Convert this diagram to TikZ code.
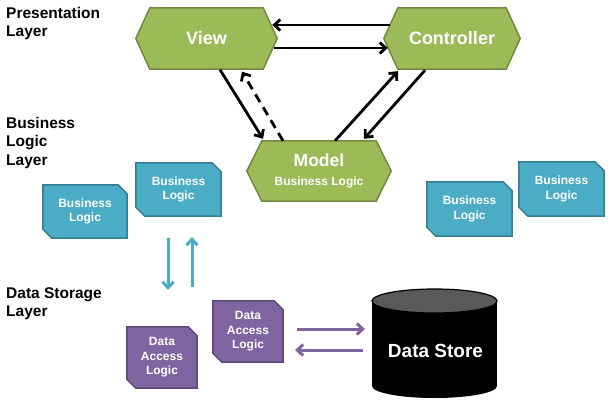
\documentclass[tikz,border=0pt]{standalone}
\usepackage{fontspec}
\setmainfont{Liberation Sans}
\usetikzlibrary{arrows.meta,calc,backgrounds}
\definecolor{grfill}{HTML}{9BBB59}
\definecolor{grline}{HTML}{71893F}
\definecolor{tlfill}{HTML}{4BACC6}
\definecolor{tlline}{HTML}{357D91}
\definecolor{pufill}{HTML}{8064A2}
\definecolor{puline}{HTML}{5C4776}
\definecolor{dsgray}{HTML}{595959}
\tikzset{
  layerlabel/.style={anchor=north west, inner sep=0pt, align=left, font=\bfseries\fontsize{15.5}{18.3}\selectfont},
  hexnode/.style={inner sep=0pt, text=white, align=center},
  boxnode/.style={inner sep=0pt, text=white, align=center, font=\bfseries\fontsize{12}{14.5}\selectfont},
  hexline/.style={draw=grline, fill=grfill, line width=1.5pt, line join=miter},
  tlbox/.style={draw=tlline, fill=tlfill, line width=1.5pt},
  pubox/.style={draw=puline, fill=pufill, line width=1.5pt},
  blk/.style={draw=black, line width=2.8pt, -{Straight Barb[length=6pt,width=11pt,line width=2.8pt]}},
  tlarrow/.style={draw=tlfill, line width=3pt, -{Straight Barb[length=6pt,width=11pt,line width=3pt]}},
  puarrow/.style={draw=pufill, line width=3pt, -{Straight Barb[length=6pt,width=11pt,line width=3pt]}},
}
\newcommand\drawhex[2]{\draw[hexline] (#1.west) -- ($(#1.north west)+(#2,0)$) -- ($(#1.north east)+(-#2,0)$) -- (#1.east) -- ($(#1.south east)+(-#2,0)$) -- ($(#1.south west)+(#2,0)$) -- cycle;}
\newcommand\drawsnip[2]{\draw[#2] (#1.north west) -- ($(#1.north east)+(-9,0)$) -- ($(#1.north east)+(0,9)$) -- (#1.south east) -- ($(#1.south west)+(9,0)$) -- ($(#1.south west)+(0,-9)$) -- cycle;}
\begin{document}
\begin{tikzpicture}[x=1pt,y=-1pt]
\useasboundingbox (0,0) rectangle (610,401);
% layer labels
\node[layerlabel] (lp) at (6,7) {Presentation\\Layer};
\node[layerlabel] (lb) at (6,117) {Business\\Logic\\Layer};
\node[layerlabel] (ld) at (6,287) {Data Storage\\Layer};
% hexagon nodes
\node[hexnode, minimum width=141pt, minimum height=61pt, font=\bfseries\fontsize{18}{20}\selectfont] (view) at (206.5,38.5) {View};
\node[hexnode, minimum width=136pt, minimum height=61pt, font=\bfseries\fontsize{18}{20}\selectfont] (ctrl) at (452,38.5) {Controller};
\node[hexnode, minimum width=144pt, minimum height=60pt, font=\bfseries\fontsize{12}{18.5}\selectfont] (model) at (319,171) {{\fontsize{17.5}{18.5}\selectfont Model}\\Business Logic};
% business logic boxes
\node[boxnode, minimum width=84pt, minimum height=53pt] (bla) at (85,211.5) {Business\\Logic};
\node[boxnode, minimum width=85pt, minimum height=53pt] (blb) at (178.5,189.5) {Business\\Logic};
\node[boxnode, minimum width=85pt, minimum height=54pt] (blc) at (469.5,209) {Business\\Logic};
\node[boxnode, minimum width=85pt, minimum height=54pt] (bld) at (561.5,189) {Business\\Logic};
% data access boxes
\node[boxnode, minimum width=70pt, minimum height=61pt] (dae) at (162,357.5) {Data\\Access\\Logic};
\node[boxnode, minimum width=70pt, minimum height=61pt] (daf) at (248,331.5) {Data\\Access\\Logic};
% shapes behind texts
\begin{pgfonlayer}{background}
  \drawhex{view}{14}
  \drawhex{ctrl}{14}
  \drawhex{model}{15}
  \drawsnip{bla}{tlbox}
  \drawsnip{blb}{tlbox}
  \drawsnip{blc}{tlbox}
  \drawsnip{bld}{tlbox}
  \drawsnip{dae}{pubox}
  \drawsnip{daf}{pubox}
  \fill[black] (372,301) rectangle (497,386);
  \fill[black] (434.5,386) ellipse [x radius=62.5, y radius=12];
  \draw[black, line width=1.2pt, fill=dsgray] (434.5,301) ellipse [x radius=62.5, y radius=12];
\end{pgfonlayer}
\node[inner sep=0pt, text=white, font=\bfseries\fontsize{19}{21}\selectfont] (ds) at (435.5,351) {Data Store};
% black arrows
\draw[blk] ($(ctrl.west)+(6,-13.5)$) -- ($(view.east)+(-5,-13.5)$);
\draw[blk] ($(view.east)+(-3,9.5)$) -- ($(ctrl.west)+(4,9.5)$);
\draw[blk] ($(view.south)+(13.5,0.5)$) -- ($(model.north)+(-56,-2)$);
\draw[blk, dash pattern=on 9pt off 6pt] ($(model.north)+(-36,0)$) -- ($(view.south)+(35.5,2.5)$);
\draw[blk] ($(model.north)+(16,0)$) -- ($(ctrl.south)+(-54,2)$);
\draw[blk] ($(ctrl.south)+(-27,1)$) -- ($(model.north)+(45,-2)$);
% teal arrows
\coordinate (td1) at (168,238);
\coordinate (td2) at (168,290);
\coordinate (tu1) at (192,287);
\coordinate (tu2) at (192,237);
\draw[tlarrow] (td1) -- (td2);
\draw[tlarrow] (tu1) -- (tu2);
% purple arrows
\coordinate (pr1) at (297,329);
\coordinate (pr2) at (365,329);
\coordinate (pl1) at (363,350);
\coordinate (pl2) at (295,350);
\draw[puarrow] (pr1) -- (pr2);
\draw[puarrow] (pl1) -- (pl2);
\end{tikzpicture}
\end{document}
